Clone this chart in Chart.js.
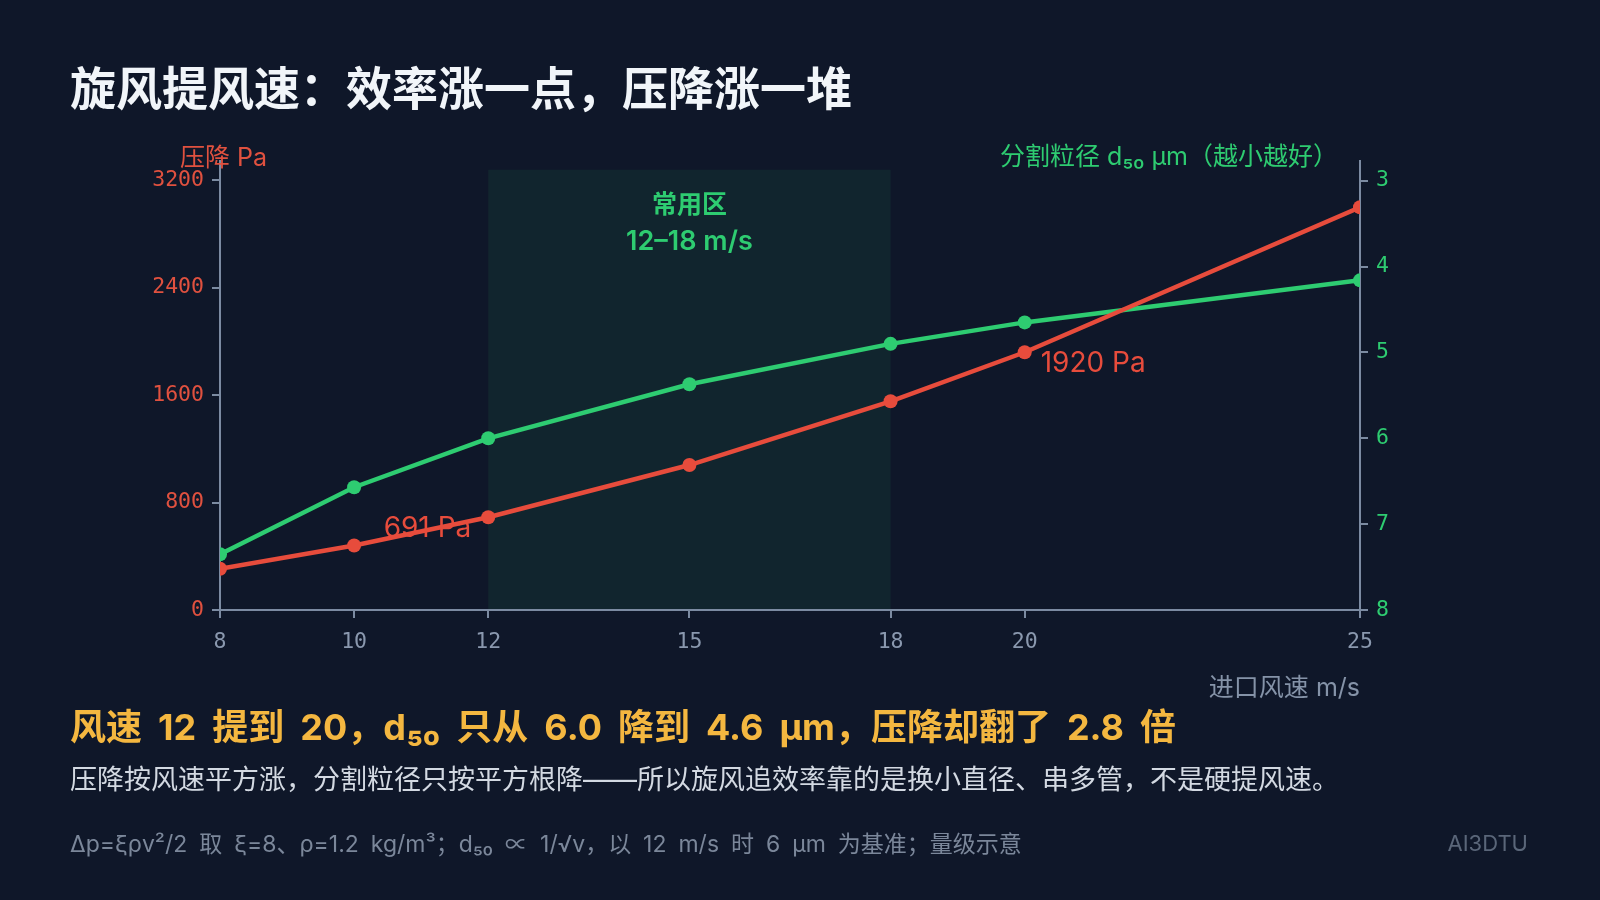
<!DOCTYPE html>
<html lang="zh-CN">
<head>
<meta charset="utf-8">
<title>旋风提风速</title>
<script src="https://cdn.jsdelivr.net/npm/chart.js@4.4.1/dist/chart.umd.min.js"></script>
<style>
  html, body { margin: 0; padding: 0; background: #0f1729; }
  body { width: 1600px; height: 900px; position: relative; overflow: hidden;
         font-family: Inter, "Noto Sans CJK SC", sans-serif; }
  #wrap { position: absolute; left: 0; top: 0; width: 1600px; height: 900px; }
  .txt { position: absolute; white-space: nowrap; line-height: 1; }
  #title { left: 70px; top: 65px; font-size: 46px; font-weight: 700; color: #f1f5f9; }
  #yl-title { left: 180px; top: 145px; font-size: 25px; color: #e0513f; }
  #yr-title { right: 262px; top: 144px; font-size: 25px; color: #2ecc71; }
  #x-title { right: 240px; top: 675px; font-size: 25px; color: #8593a8; }
  #headline { left: 70px; top: 709px; font-size: 36px; font-weight: 700; color: #f4b740; word-spacing: 7.5px; }
  #sub { left: 70px; top: 766px; font-size: 27px; color: #d3d9e2; }
  #foot { left: 70px; top: 833px; font-size: 23px; color: #7b879a; word-spacing: 5.5px; }
  #brand { right: 72px; top: 832px; font-size: 22px; color: #5a6679; }
</style>
</head>
<body>
<div id="wrap"><canvas id="chart" width="1600" height="900"></canvas></div>
<div class="txt" id="title">旋风提风速：效率涨一点，压降涨一堆</div>
<div class="txt" id="yl-title">压降 Pa</div>
<div class="txt" id="yr-title">分割粒径 d₅₀ μm（越小越好）</div>
<div class="txt" id="x-title">进口风速 m/s</div>
<div class="txt" id="headline">风速 12 提到 20，d₅₀ 只从 6.0 降到 4.6 μm，压降却翻了 2.8 倍</div>
<div class="txt" id="sub">压降按风速平方涨，分割粒径只按平方根降——所以旋风追效率靠的是换小直径、串多管，不是硬提风速。</div>
<div class="txt" id="foot">Δp=ξρv²/2 取 ξ=8、ρ=1.2 kg/m³；d₅₀ ∝ 1/√v，以 12 m/s 时 6 μm 为基准；量级示意</div>
<div class="txt" id="brand">AI3DTU</div>
<script>
// data
const SPEEDS = [8, 10, 12, 15, 18, 20, 25];            // inlet speed m/s
const PRESSURE_PA = [307, 480, 691, 1080, 1555, 1920, 3000];
const D50_UM = [7.35, 6.57, 6.0, 5.37, 4.9, 4.65, 4.16];
const LEFT_TICKS = [0, 800, 1600, 2400, 3200];
const RIGHT_TICKS = [3, 4, 5, 6, 7, 8];
const BAND_RANGE = [12, 18];
const BAND_TOP_PA = 3280;
const BAND_LABELS = ['常用区', '12–18 m/s'];
const LABELED_SPEEDS = [12, 20];

const RED = '#e74c3c';
const GREEN = '#2ecc71';
const AXIS = '#7c8ba2';
const MONO = '"DejaVu Sans Mono", monospace';
const SANS = 'Inter, "Noto Sans CJK SC", sans-serif';

// shaded "常用区" band, behind everything
const bandPlugin = {
  id: 'band',
  beforeDraw(chart) {
    const { ctx, scales: { x, yL }, chartArea } = chart;
    const x0 = x.getPixelForValue(BAND_RANGE[0]);
    const x1 = x.getPixelForValue(BAND_RANGE[1]);
    const top = yL.getPixelForValue(BAND_TOP_PA);
    ctx.save();
    ctx.fillStyle = 'rgba(46, 204, 113, 0.08)';
    ctx.fillRect(x0, top, x1 - x0, chartArea.bottom - top);
    ctx.fillStyle = GREEN;
    ctx.textAlign = 'center';
    ctx.textBaseline = 'middle';
    ctx.font = '600 25px ' + SANS;
    ctx.fillText(BAND_LABELS[0], (x0 + x1) / 2, top + 36);
    ctx.font = '600 27px ' + SANS;
    ctx.fillText(BAND_LABELS[1], (x0 + x1) / 2, top + 72);
    ctx.restore();
  }
};

// "691 Pa" / "1920 Pa" next to their points
const valueLabels = {
  id: 'valueLabels',
  beforeDatasetsDraw(chart) {
    const { ctx } = chart;
    const meta = chart.getDatasetMeta(0);
    ctx.save();
    ctx.fillStyle = RED;
    ctx.font = '28px ' + SANS;
    ctx.textBaseline = 'middle';
    LABELED_SPEEDS.forEach((v, k) => {
      const i = SPEEDS.indexOf(v);
      const pt = meta.data[i];
      const text = PRESSURE_PA[i] + ' Pa';
      if (k === 0) {
        ctx.textAlign = 'right';
        ctx.fillText(text, pt.x - 17, pt.y + 11);
      } else {
        ctx.textAlign = 'left';
        ctx.fillText(text, pt.x + 16, pt.y + 11);
      }
    });
    ctx.restore();
  }
};

const axisGrid = {
  drawOnChartArea: false,
  drawTicks: true,
  tickLength: 8,
  color: AXIS,
  lineWidth: 2
};
const axisBorder = { color: AXIS, width: 2 };
const plain = (v) => String(v);

new Chart(document.getElementById('chart'), {
  type: 'line',
  data: {
    datasets: [
      {
        label: '压降 Pa',
        data: SPEEDS.map((v, i) => ({ x: v, y: PRESSURE_PA[i] })),
        yAxisID: 'yL',
        borderColor: RED,
        backgroundColor: RED,
        borderWidth: 4.5,
        pointRadius: 7,
        pointBorderWidth: 0,
        tension: 0
      },
      {
        label: '分割粒径 d50 μm',
        data: SPEEDS.map((v, i) => ({ x: v, y: D50_UM[i] })),
        yAxisID: 'yR',
        borderColor: GREEN,
        backgroundColor: GREEN,
        borderWidth: 4.5,
        pointRadius: 7,
        pointBorderWidth: 0,
        tension: 0
      }
    ]
  },
  options: {
    responsive: false,
    animation: false,
    layout: { padding: { left: 140, right: 160, top: 161, bottom: 240 } },
    plugins: {
      legend: { display: false },
      tooltip: { enabled: false }
    },
    scales: {
      x: {
        type: 'linear',
        min: 8,
        max: 25,
        afterBuildTicks: (s) => { s.ticks = SPEEDS.map(v => ({ value: v })); },
        afterFit: (s) => { s.height = 50; },
        grid: axisGrid,
        border: axisBorder,
        ticks: { color: '#8a98ae', font: { family: MONO, size: 21.5 }, padding: 12, maxRotation: 0, callback: plain }
      },
      yL: {
        type: 'linear',
        position: 'left',
        min: 0,
        max: 3345,
        afterBuildTicks: (s) => { s.ticks = LEFT_TICKS.map(v => ({ value: v })); },
        afterFit: (s) => { s.width = 80; },
        grid: axisGrid,
        border: axisBorder,
        ticks: { color: '#e0513f', font: { family: MONO, size: 21.5 }, padding: 8, callback: plain }
      },
      yR: {
        type: 'linear',
        position: 'right',
        reverse: true,
        min: 2.77,
        max: 8,
        afterBuildTicks: (s) => { s.ticks = RIGHT_TICKS.map(v => ({ value: v })); },
        afterFit: (s) => { s.width = 80; },
        grid: axisGrid,
        border: axisBorder,
        ticks: { color: GREEN, font: { family: MONO, size: 21.5 }, padding: 8, callback: plain }
      }
    }
  },
  plugins: [bandPlugin, valueLabels]
});
</script>
</body>
</html>
